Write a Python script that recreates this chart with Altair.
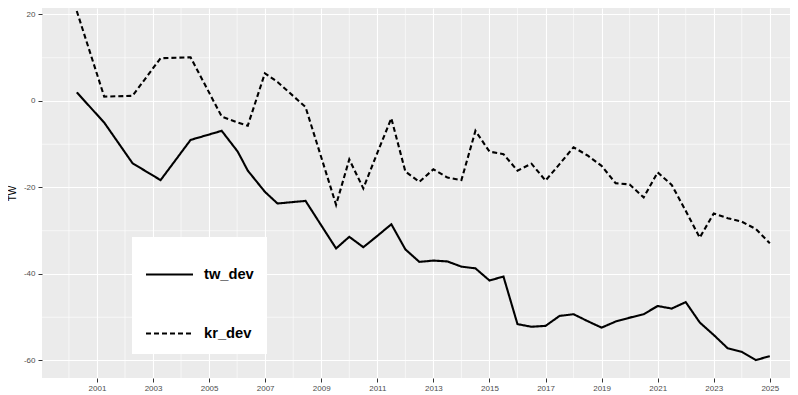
import altair as alt
import pandas as pd

# decimal-year positions of observations
years = [2000.28, 2001.26, 2002.27, 2003.27, 2004.34, 2005.45, 2006.02, 2006.38,
         2006.99, 2007.44, 2008.44, 2009.53, 2010.0, 2010.5, 2011.0, 2011.5,
         2012.0, 2012.5, 2013.0, 2013.5, 2014.0, 2014.5, 2015.0, 2015.5,
         2016.0, 2016.5, 2017.0, 2017.5, 2018.0, 2018.5, 2019.0, 2019.5,
         2020.0, 2020.5, 2021.0, 2021.5, 2022.0, 2022.5, 2023.0, 2023.5,
         2024.0, 2024.5, 2025.0]

tw_dev = [2.0, -5.0, -14.4, -18.3, -9.0, -6.9, -11.7, -16.1,
          -21.0, -23.7, -23.1, -34.1, -31.4, -33.8, -31.2, -28.5,
          -34.3, -37.2, -36.9, -37.1, -38.3, -38.7, -41.5, -40.6,
          -51.6, -52.2, -52.0, -49.7, -49.3, -50.9, -52.4, -51.0,
          -50.1, -49.3, -47.4, -48.0, -46.5, -51.2, -54.1, -57.2,
          -58.0, -59.9, -59.0]

kr_dev = [20.8, 1.0, 1.2, 9.9, 10.1, -3.6, -5.0, -5.7,
          6.4, 4.4, -1.4, -24.0, -13.5, -20.2, -12.0, -4.0,
          -16.3, -18.7, -15.8, -17.7, -18.3, -6.9, -11.7, -12.3,
          -16.1, -14.5, -18.4, -14.6, -10.7, -12.6, -15.0, -19.0,
          -19.3, -22.3, -16.5, -19.4, -25.4, -31.6, -26.0, -27.1,
          -27.9, -29.6, -32.9]

series_names = ["tw_dev", "kr_dev"]
x_major = list(range(2001, 2026, 2))
x_minor = list(range(2000, 2026, 2))
y_major = [-60, -40, -20, 0, 20]
y_minor = [-50, -30, -10, 10]

rows = []
for i, yr in enumerate(years):
    rows.append({"year": yr, "value": tw_dev[i], "series": "tw_dev", "ord": i})
for i, yr in enumerate(years):
    rows.append({"year": yr, "value": kr_dev[i], "series": "kr_dev", "ord": i})
df = pd.DataFrame(rows)

x_scale = alt.Scale(domain=[1999.04, 2025.72], nice=False, zero=False)
y_scale = alt.Scale(domain=[-64.05, 21.5], nice=False, zero=False)

vminor = alt.Chart(pd.DataFrame({"year": x_minor})).mark_rule(
    color="white", strokeWidth=0.6
).encode(x=alt.X("year:Q", scale=x_scale))

hminor = alt.Chart(pd.DataFrame({"value": y_minor})).mark_rule(
    color="white", strokeWidth=0.6
).encode(y=alt.Y("value:Q", scale=y_scale))

lines = alt.Chart(df).mark_line(color="black", strokeWidth=2.1).encode(
    x=alt.X("year:Q", scale=x_scale, title=None,
            axis=alt.Axis(values=x_major, format="d", grid=True, gridColor="white",
                          gridWidth=1.1, domain=False, tickColor="#333333", tickSize=4,
                          labelColor="#4D4D4D", labelFontSize=8, labelPadding=2,
                          labelFont="Liberation Sans")),
    y=alt.Y("value:Q", scale=y_scale, title="TW",
            axis=alt.Axis(values=y_major, labelExpr="'' + datum.value", grid=True,
                          gridColor="white", gridWidth=1.1, domain=False,
                          tickColor="#333333", tickSize=4, labelColor="#4D4D4D",
                          labelFontSize=8, labelPadding=3, labelFont="Liberation Sans",
                          titleFont="Liberation Sans", titleFontSize=10,
                          titleFontWeight="normal", titleColor="black", titlePadding=6)),
    strokeDash=alt.StrokeDash(
        "series:N", title=None,
        scale=alt.Scale(domain=series_names, range=[[1, 0], [5, 3]]),
        legend=alt.Legend(orient="none", legendX=90, legendY=229,
                          symbolType="stroke", symbolSize=2209, symbolStrokeWidth=2,
                          symbolStrokeColor="black", labelFontSize=14.7,
                          labelFontWeight="bold", labelColor="black",
                          labelFont="Liberation Sans", labelOffset=10,
                          rowPadding=27, padding=13, fillColor="white")),
    order="ord:Q",
)

chart = alt.layer(vminor, hminor, lines).properties(
    width=748, height=370,
    autosize=alt.AutoSizeParams(type="none"),
    padding={"left": 34, "top": 0, "right": 0, "bottom": 17},
    background="white",
).configure_view(fill="#EBEBEB", stroke=None)

chart.save("out.html", embed_options={"renderer": "svg", "actions": False})
